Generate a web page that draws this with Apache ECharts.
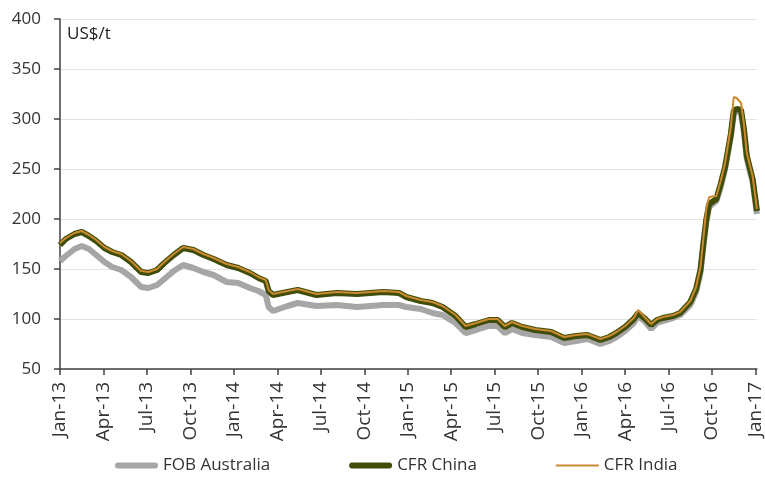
<!DOCTYPE html>
<html>
<head>
<meta charset="utf-8">
<script src="https://cdn.jsdelivr.net/npm/echarts@6/dist/echarts.min.js"></script>
<style>html,body{margin:0;padding:0;background:#fff}#c{width:765px;height:483px}</style>
</head>
<body>
<div id="c"></div>
<script>
// x positions in months since Jan-2013
var months = [0,0.4,1.0,1.5,2.0,2.5,3.07,3.6,4.23,4.9,5.6,6.1,6.7,7.2,7.85,8.5,9.2,9.9,10.6,11.5,12.3,13.1,13.7,14.2,14.4,14.7,15.7,16.4,17.7,19.1,20.5,22.3,23.4,23.9,24.9,25.7,26.4,27.3,28.0,28.7,29.6,30.2,30.7,31.2,31.9,32.8,33.9,34.8,35.6,36.4,37.3,37.9,38.4,39.0,39.6,39.9,40.4,40.8,41.2,41.6,42.3,42.8,43.5,43.9,44.2,44.4,44.6,44.8,45.3,45.6,45.9,46.3,46.5,46.7,47.0,47.2,47.4,47.8,48.1];
var fobAustralia = [158,163,170,173,170,164,157,152,149,142,132,131,134,140,148,154,151,147,144,137,136,131,128,124,112,108,113,116,113,114,112,114,114,112,110,106,104,96,86,89,93,93,86,90,86,84,82,76,78,80,75,78,82,88,96,103,97,90,96,98,101,104,114,127,146,172,196,212,218,232,250,282,305,308,306,287,260,237,205];
var cfrChina = [174,180,185,187,183,178,171,167,164,157,147,146,149,156,164,171,169,164,160,154,151,146,141,138,128,124,127,129,124,126,125,127,126,122,118,116,112,103,92,95,99,99,92,96,92,89,87,81,83,84,79,82,86,92,100,106,100,94,99,101,103,106,117,130,149,175,199,215,220,235,252,285,308,310,309,290,263,240,208];
var cfrIndia = [176,181,186,188,184,179,172,168,165,158,148,147,150,157,165,172,170,165,161,155,152,147,142,139,129,125,128,130,125,127,126,128,127,123,119,117,113,104,93,96,100,100,93,97,93,90,88,82,84,85,80,83,87,93,101,109,101,95,100,102,104,107,118,132,152,180,210,222,223,238,256,292,322,321,316,295,266,243,210];
var tickLabels = ['Jan-13','Apr-13','Jul-13','Oct-13','Jan-14','Apr-14','Jul-14','Oct-14','Jan-15','Apr-15','Jul-15','Oct-15','Jan-16','Apr-16','Jul-16','Oct-16','Jan-17'];
var yTicks = [50,100,150,200,250,300,350,400];

function pairs(xs, ys){ return xs.map(function(x,i){ return [x, ys[i]]; }); }

var chart = echarts.init(document.getElementById('c'), null, {renderer:'canvas'});
var font = 'Open Sans';
chart.setOption({
  animation:false,
  title:{text:'US$/t', left:67, top:26, padding:0, textStyle:{fontFamily:font, fontSize:17, fontWeight:'normal', color:'#222'}},
  grid:{left:60, right:0, top:19, bottom:114},
  legend:{
    bottom:9, left:115, padding:0, itemGap:79, itemWidth:43, itemHeight:14,
    textStyle:{fontFamily:font, fontSize:17, color:'#333'},
    data:[
      {name:'FOB Australia', icon:'path://M3,0H40A3,3 0 0 1 40,6H3A3,3 0 0 1 3,0Z', itemStyle:{color:'#a6a6a6'}},
      {name:'CFR China', icon:'path://M3,0H40A3,3 0 0 1 40,6H3A3,3 0 0 1 3,0Z', itemStyle:{color:'#3f4d08'}},
      {name:'CFR India', icon:'path://M0,0H43V2H0Z', itemStyle:{color:'#cc8a30'}}
    ]
  },
  xAxis:{
    type:'value', min:0, max:48.1, interval:3,
    axisLine:{lineStyle:{color:'#404040', width:1.5}},
    axisTick:{show:true, length:6, lineStyle:{color:'#404040', width:1.5}},
    splitLine:{show:false},
    axisLabel:{rotate:90, color:'#333', fontFamily:font, fontSize:19, margin:13,
      formatter:function(v){ var i=Math.round(v/3); return tickLabels[i]||''; }}
  },
  yAxis:{
    type:'value', min:yTicks[0], max:yTicks[yTicks.length-1], interval:50,
    axisLine:{show:true, lineStyle:{color:'#404040', width:1.5}},
    axisTick:{show:true, length:6, lineStyle:{color:'#404040', width:1.5}},
    splitLine:{lineStyle:{color:'#e3e3e3', width:1}},
    axisLabel:{color:'#333', fontFamily:font, fontSize:17, margin:19}
  },
  series:[
    {name:'FOB Australia', type:'line', symbol:'none', data:pairs(months,fobAustralia), lineStyle:{color:'#a6a6a6', width:6}, itemStyle:{color:'#a6a6a6'}},
    {name:'CFR China', type:'line', symbol:'none', data:pairs(months,cfrChina), lineStyle:{color:'#3f4d08', width:6}, itemStyle:{color:'#3f4d08'}},
    {name:'CFR India', type:'line', symbol:'none', data:pairs(months,cfrIndia), lineStyle:{color:'#cc8a30', width:2}, itemStyle:{color:'#cc8a30'}}
  ]
});
</script>
</body>
</html>
